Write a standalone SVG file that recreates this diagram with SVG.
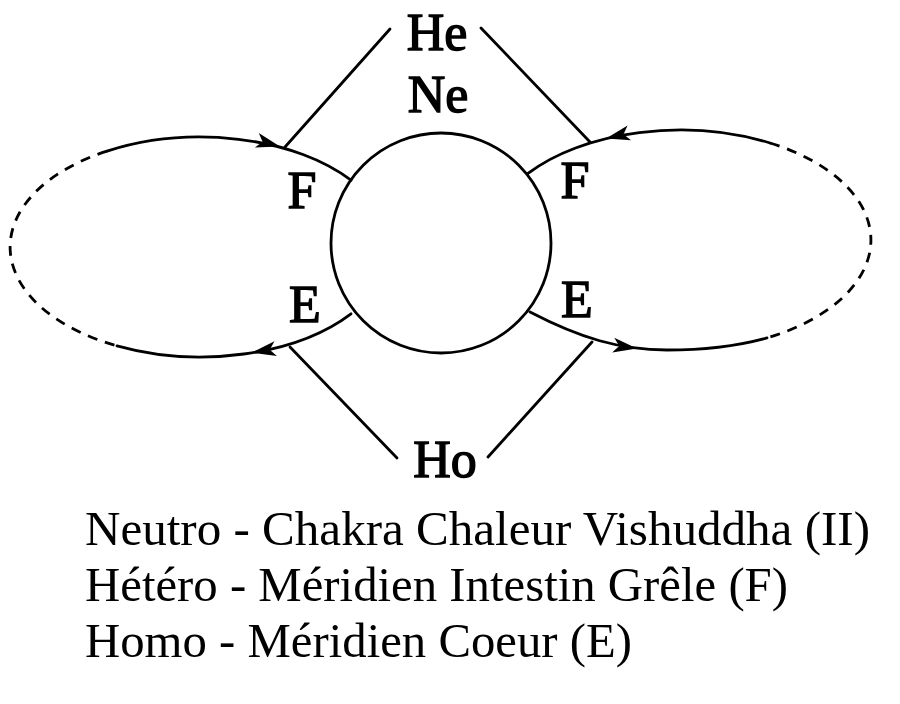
<svg xmlns="http://www.w3.org/2000/svg" width="900" height="704" viewBox="0 0 900 704">
<style>
.ln{fill:none;stroke:#000;stroke-width:2.8;stroke-linecap:round}
.ds{fill:none;stroke:#000;stroke-width:2.8;stroke-dasharray:10 8}
.lb{font-family:"Liberation Serif","Times New Roman",serif;font-size:52px;fill:#000;stroke:#000;stroke-width:1.4;text-anchor:middle}
.tx{font-family:"Liberation Serif","Times New Roman",serif;font-size:48.5px;fill:#000}
</style>
<defs>
<path id="ah" d="M0,0 L-24,-7.5 L-18,0 L-24,7.5 Z" fill="#000"/>
</defs>
<rect width="900" height="704" fill="#fff"/>
<g id="connectors">
<path class="ln" d="M351 180.2 A190 110 0 0 0 107 151.1"/>
<path class="ds" d="M107 151.1 A190 110 0 0 0 117 345.9"/>
<path class="ln" d="M117 345.9 A190 110 0 0 0 351 313.8"/>
<path class="ln" d="M528 173.4 A191 110 0 0 1 770 143"/>
<path class="ds" d="M770 143 A191 110 0 0 1 767 337.9"/>
<path class="ln" d="M767 337.9 C745 344 710 350 667 350 C620 350 580 338 530 312"/>
<line class="ln" x1="390" y1="29" x2="285" y2="147"/>
<line class="ln" x1="481" y1="28" x2="590" y2="142"/>
<line class="ln" x1="290" y1="347" x2="397" y2="458"/>
<line class="ln" x1="592" y1="342" x2="488" y2="457"/>
<use href="#ah" transform="translate(280,146.5) rotate(15)"/>
<use href="#ah" transform="translate(252,352.6) rotate(170.5)"/>
<use href="#ah" transform="translate(606,138.4) rotate(166.6)"/>
<use href="#ah" transform="translate(637,348.5) rotate(8)"/>
</g>
<g id="node-ne">
<circle class="ln" cx="441" cy="243" r="110"/>
<text class="lb" x="438" y="112">Ne</text>
</g>
<g id="node-he"><text class="lb" x="437" y="50">He</text></g>
<g id="node-ho"><text class="lb" x="445" y="477">Ho</text></g>
<g id="node-f-left"><text class="lb" x="302" y="208">F</text></g>
<g id="node-e-left"><text class="lb" x="305" y="322">E</text></g>
<g id="node-f-right"><text class="lb" x="575" y="198">F</text></g>
<g id="node-e-right"><text class="lb" x="577" y="317">E</text></g>
<g id="legend">
<text class="tx" x="85" y="545" textLength="785" lengthAdjust="spacingAndGlyphs">Neutro - Chakra Chaleur Vishuddha (II)</text>
<text class="tx" x="85" y="601" textLength="703" lengthAdjust="spacingAndGlyphs">Hétéro - Méridien Intestin Grêle (F)</text>
<text class="tx" x="85" y="657" textLength="547" lengthAdjust="spacingAndGlyphs">Homo - Méridien Coeur (E)</text>
</g>
</svg>
